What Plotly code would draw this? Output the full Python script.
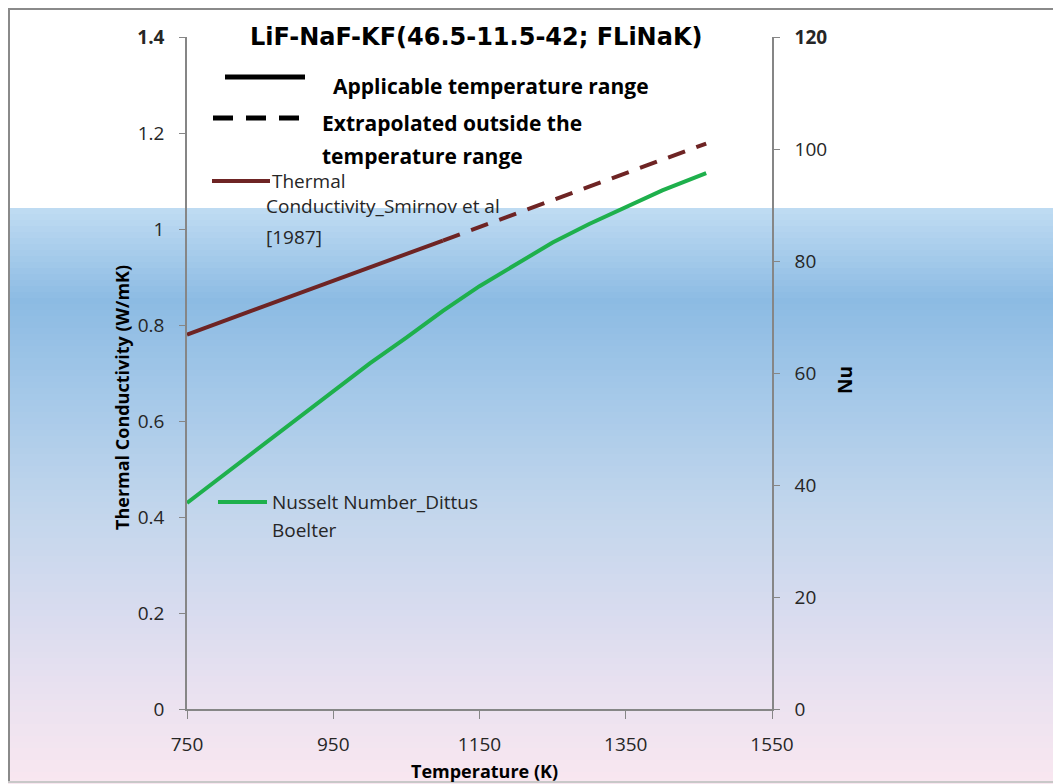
import plotly.graph_objects as go

# ---------------- data ----------------
title_text = "LiF-NaF-KF(46.5-11.5-42; FLiNaK)"

temp_k_solid = [750, 800, 850, 900, 950, 1000, 1050, 1100]
k_solid = [0.780, 0.808, 0.836, 0.864, 0.892, 0.920, 0.948, 0.976]

temp_k_dash = [1100, 1200, 1300, 1400, 1460]
k_dash = [0.976, 1.032, 1.088, 1.144, 1.178]

temp_nu = [750, 800, 850, 900, 950, 1000, 1050, 1100, 1150, 1200, 1250, 1300, 1350, 1400, 1460]
nu_vals = [36.8, 41.8, 46.8, 51.7, 56.8, 61.7, 66.3, 71.1, 75.5, 79.5, 83.3, 86.6, 89.6, 92.6, 95.7]

x_ticks = [750, 950, 1150, 1350, 1550]
y1_ticks = [0, 0.2, 0.4, 0.6, 0.8, 1.0, 1.2, 1.4]
y1_labels = ["0", "0.2", "0.4", "0.6", "0.8", "1", "1.2", "<b>1.4</b>"]
y2_ticks = [0, 20, 40, 60, 80, 100, 120]
y2_labels = ["0", "20", "40", "60", "80", "100", "<b>120</b>"]

# ---------------- layout geometry (page pixels; figure sits at page offset 8,8) ----------------
OFF = 8
W, H = 1061 - OFF, 784 - OFF
L, R, T, B = 187, 772, 37, 709
PW, PH = R - L, B - T


def px(x):
    return (x - L) / PW


def py(y):
    return (B - y) / PH


BROWN = "#6e2424"
GREEN = "#1eb04c"
AXIS = "#868686"
TXT = "#262626"
FONT = "Open Sans"

fig = go.Figure()
fig.add_trace(go.Scatter(x=temp_k_solid, y=k_solid, mode="lines",
                         line=dict(color=BROWN, width=4), showlegend=False))
fig.add_trace(go.Scatter(x=temp_k_dash, y=k_dash, mode="lines",
                         line=dict(color=BROWN, width=4, dash="18px,12px"), showlegend=False))
fig.add_trace(go.Scatter(x=temp_nu, y=nu_vals, mode="lines", yaxis="y2",
                         line=dict(color=GREEN, width=4), showlegend=False))

shapes = []
# gradient background (below the white top band)
stops = [(208, (192, 220, 242)), (300, (140, 187, 227)), (400, (166, 201, 233)),
         (510, (194, 214, 236)), (620, (218, 220, 239)), (700, (235, 226, 240)),
         (784, (249, 231, 240))]


def col_at(y):
    for (y0, c0), (y1, c1) in zip(stops[:-1], stops[1:]):
        if y0 <= y <= y1:
            f = (y - y0) / (y1 - y0)
            return "rgb(%d,%d,%d)" % tuple(round(a + (b - a) * f) for a, b in zip(c0, c1))
    return "rgb(%d,%d,%d)" % stops[-1][1]


step = 6
y = 208
while y < 784:
    shapes.append(dict(type="rect", xref="paper", yref="paper", layer="below",
                       x0=px(8), x1=px(1062), y0=py(y), y1=py(min(y + step + 1, 785)),
                       fillcolor=col_at(y + step / 2), line=dict(width=0)))
    y += step

# frame border
shapes.append(dict(type="line", xref="paper", yref="paper", x0=px(9), x1=px(9),
                   y0=py(8), y1=py(782), line=dict(color="#8a8a8a", width=2)))
shapes.append(dict(type="line", xref="paper", yref="paper", x0=px(8), x1=px(1062),
                   y0=py(9), y1=py(9), line=dict(color="#8a8a8a", width=2)))
shapes.append(dict(type="line", xref="paper", yref="paper", x0=px(8), x1=px(1062),
                   y0=py(782), y1=py(782), line=dict(color="#c8c8c8", width=2)))

# legend line samples
shapes.append(dict(type="line", xref="paper", yref="paper", x0=px(225), x1=px(305),
                   y0=py(77), y1=py(77), line=dict(color="black", width=5)))
shapes.append(dict(type="line", xref="paper", yref="paper", x0=px(213), x1=px(300),
                   y0=py(118), y1=py(118), line=dict(color="black", width=5, dash="20px,13px")))
shapes.append(dict(type="line", xref="paper", yref="paper", x0=px(212), x1=px(270),
                   y0=py(181), y1=py(181), line=dict(color=BROWN, width=4)))
shapes.append(dict(type="line", xref="paper", yref="paper", x0=px(218), x1=px(267),
                   y0=py(502), y1=py(502), line=dict(color=GREEN, width=4)))

ann = []


def text(x, y, s, size, bold=False, xanchor="left", angle=0, font=FONT, color=TXT):
    ann.append(dict(xref="paper", yref="paper", x=px(x), y=py(y), text=("<b>%s</b>" % s) if bold else s,
                    showarrow=False, xanchor=xanchor, yanchor="middle", textangle=angle,
                    font=dict(family=font, size=size, color=color)))


text(476, 37, title_text, 24, bold=True, xanchor="center", font="DejaVu Sans", color="black")
text(331, 86, "Applicable temperature range", 21, bold=True, color="black")
text(320, 123, "Extrapolated outside the", 21, bold=True, color="black")
text(320, 156, "temperature range", 21, bold=True, color="black")
text(270, 181, "Thermal", 19)
text(264, 206, "Conductivity_Smirnov et al", 19)
text(264, 237, "[1987]", 19)
text(270, 502, "Nusselt Number_Dittus", 19)
text(270, 530, "Boelter", 19)
text(484, 771, "Temperature (K)", 18, bold=True, xanchor="center", color="black")
text(122, 398, "Thermal Conductivity (W/mK)", 18, bold=True, xanchor="center", angle=-90, color="black")
text(845, 380, "Nu", 19, bold=True, xanchor="center", angle=-90, color="black")

axis_common = dict(showline=True, linecolor=AXIS, linewidth=1.5, ticks="outside",
                   tickcolor=AXIS, showgrid=False, zeroline=False,
                   tickfont=dict(family=FONT, size=19, color=TXT))

fig.update_layout(
    width=W, height=H, autosize=False,
    margin=dict(l=L - OFF, r=1061 - R, t=T - OFF, b=784 - B),
    paper_bgcolor="white", plot_bgcolor="rgba(0,0,0,0)",
    xaxis=dict(range=[750, 1550], tickvals=x_ticks, ticklen=8, ticklabelstandoff=9, **axis_common),
    yaxis=dict(range=[0, 1.4], tickvals=y1_ticks, ticktext=y1_labels, ticklen=6,
               ticklabelstandoff=11, **axis_common),
    yaxis2=dict(range=[0, 120], tickvals=y2_ticks, ticktext=y2_labels, ticklen=6,
                ticklabelstandoff=11, overlaying="y", side="right", **axis_common),
    shapes=shapes, annotations=ann, showlegend=False,
)

fig.write_html("out.html")
